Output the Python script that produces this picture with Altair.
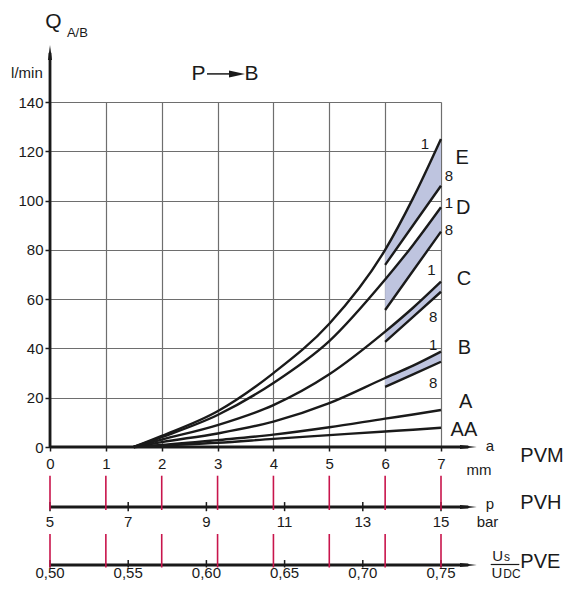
import altair as alt
import pandas as pd

FONT = "Liberation Sans"
INK = "#1a1a1a"
GRID = "#6e6e6e"
RED = "#c8154c"
FILL = "#bec4df"

# ---------------- data ----------------
a_ticks = [0, 1, 2, 3, 4, 5, 6, 7]
q_ticks = [0, 20, 40, 60, 80, 100, 120, 140]
p_ticks = [5, 7, 9, 11, 13, 15]
u_ticks = [0.50, 0.55, 0.60, 0.65, 0.70, 0.75]

curve_a = [1.5, 2, 3, 4, 5, 6, 6.5, 7]
q_E = [0, 4.5, 14.5, 30, 50, 80, 101, 125]
q_D = [0, 4, 13, 26, 43, 68, 82, 97.3]
q_C = [0, 3, 8.9, 17, 29.5, 46.8, 56.5, 67.1]
q_B = [0, 2, 5.5, 10.3, 17.8, 28, 33, 38.7]
q_A = [0, 0.8, 2.8, 5, 8, 11.5, 13.2, 15]
q_AA = [0, 0.6, 1.7, 3.3, 4.8, 6.3, 7.0, 7.8]

band_a = [6, 6.5, 7]
lo_E = [73.9, 90, 106]
lo_D = [55.6, 71.5, 87.4]
lo_C = [42.7, 52.8, 63]
lo_B = [24.4, 29.5, 34.6]

curves = {"E": q_E, "D": q_D, "C": q_C, "B": q_B, "A": q_A, "AA": q_AA}
lowers = {"E": lo_E, "D": lo_D, "C": lo_C, "B": lo_B}

# ---------------- layout constants (data units) ----------------
PVH_Y = -24.35
PVE_Y = -47.88
ARROW_END = 7.49

XS = alt.Scale(domain=[0, 7], nice=False, zero=False)
YS = alt.Scale(domain=[0, 140], nice=False, zero=False)

XAX = alt.Axis(values=a_ticks, format="d", title=None, domain=False, grid=True,
               gridColor=GRID, gridWidth=1.2, labelFont=FONT, labelFontSize=15,
               labelColor=INK, tickColor=INK, tickSize=4, tickWidth=1.5, labelPadding=5,
               labelFlush=False)
YAX = alt.Axis(values=q_ticks, format="d", title=None, domain=False, grid=True,
               gridColor=GRID, gridWidth=1.2, labelFont=FONT, labelFontSize=15,
               labelColor=INK, tickColor=INK, tickSize=5, tickWidth=1.5, labelPadding=2,
               labelFlush=False)


def X(f):
    return alt.X(f + ":Q", scale=XS, axis=XAX)


def Y(f):
    return alt.Y(f + ":Q", scale=YS, axis=YAX)


# curves
rows = []
for n, qs in curves.items():
    for a, q in zip(curve_a, qs):
        rows.append({"name": n, "x": a, "y": q})
curve_df = pd.DataFrame(rows)

brow = []
for n, lo in lowers.items():
    hi = curves[n][curve_a.index(6):]
    for a, h, l in zip(band_a, hi, lo):
        brow.append({"name": n, "x": a, "hi": h, "lo": l})
band_df = pd.DataFrame(brow)

areas = alt.Chart(band_df).mark_area(interpolate="monotone", color=FILL, opacity=1).encode(
    x=X("x"), y=Y("hi"), y2="lo:Q", detail="name:N")

lines = alt.Chart(curve_df).mark_line(interpolate="monotone", color=INK, strokeWidth=2.4).encode(
    x=X("x"), y=Y("y"), detail="name:N")

lower_lines = alt.Chart(band_df).mark_line(interpolate="linear", color=INK, strokeWidth=2.4).encode(
    x=X("x"), y=Y("lo"), detail="name:N")


def rules(rws, color=INK, width=2.5):
    df = pd.DataFrame(rws, columns=["x", "x2", "y", "y2"])
    return alt.Chart(df).mark_rule(color=color, strokeWidth=width).encode(
        x=X("x"), x2="x2:Q", y=Y("y"), y2="y2:Q")


def texts(rws, size, align="center", baseline="middle"):
    df = pd.DataFrame(rws, columns=["x", "y", "t"])
    return alt.Chart(df).mark_text(font=FONT, fontSize=size, align=align,
                                   baseline=baseline, color=INK).encode(
        x=X("x"), y=Y("y"), text="t:N")


def arrow(rws, path, size):
    df = pd.DataFrame(rws, columns=["x", "y"])
    return alt.Chart(df).mark_point(shape=path, size=size, filled=True, opacity=1,
                                    color=INK, strokeWidth=0).encode(x=X("x"), y=Y("y"))


RIGHT = "M-1,-0.25L1,0L-1,0.25Z"
UP = "M-0.27,1L0,-1L0.27,1Z"

axis_lines = rules([
    [0, ARROW_END, 0, 0],
    [0, ARROW_END, PVH_Y, PVH_Y],
    [0, ARROW_END, PVE_Y, PVE_Y],
    [0, 0, 0, 160],
], width=2.8)

heads = arrow([[ARROW_END, 0], [ARROW_END, PVH_Y], [ARROW_END, PVE_Y]], RIGHT, 280)
yhead = arrow([[0, 160.1]], UP, 225)

# secondary axis ticks (black) and red reference lines
sec_ticks = rules(
    [[(p - 5) * 0.7, (p - 5) * 0.7, PVH_Y + 2.0, PVH_Y - 1.7] for p in p_ticks] +
    [[(u - 0.5) * 28, (u - 0.5) * 28, PVE_Y + 2.0, PVE_Y - 1.0] for u in u_ticks],
    width=1.5)
red_lines = rules(
    [[a, a, -11.65, -25.57] for a in a_ticks] +
    [[a, a, -35.3, -48.9] for a in a_ticks],
    color=RED, width=1.6)

p_labels = texts([[(p - 5) * 0.7, -32.6, str(p)] for p in p_ticks], 15, baseline="alphabetic")
u_labels = texts([[(u - 0.5) * 28, -53.2, f"{u:.2f}".replace(".", ",")] for u in u_ticks], 15,
                 baseline="alphabetic")

# curve labels
big = texts([
    [7.38, 117.3, "E"], [7.40, 96.8, "D"], [7.41, 68.1, "C"],
    [7.42, 40.0, "B"], [7.44, 18.3, "A"], [7.41, 7.1, "AA"],
], 20)
small = texts([
    [6.71, 122.8, "1"], [7.14, 109.8, "8"], [7.14, 99.0, "1"], [7.14, 87.9, "8"],
    [6.83, 71.8, "1"], [6.86, 52.6, "8"], [6.86, 41.2, "1"], [6.86, 25.9, "8"],
], 15)

# axis titles and annotations
annot = texts([
    [0.063, 172.3, "Q"], [2.659, 151.4, "P"], [3.607, 151.4, "B"],
], 21)
annot_s = texts([[0.49, 168.1, "A/B"]], 13)
lmin = texts([[-0.13, 151.6, "l/min"]], 15, align="right")
pb_shaft = rules([[2.811, 3.22, 151.4, 151.4]], width=1.5)
pb_head = arrow([[3.348, 151.4]], "M-1,-0.44L1,0L-1,0.44Z", 256)

units = texts([
    [7.877, -1.62, "a"], [7.68, -11.36, "mm"], [7.877, -25.36, "p"], [7.833, -32.46, "bar"],
], 15, baseline="alphabetic")
names = texts([
    [8.42, -3.45, "PVM"], [8.42, -22.72, "PVH"], [8.42, -46.67, "PVE"],
], 20, align="left")
u_big = texts([[8.11, -46.14, "U"], [8.10, -53.0, "U"]], 15, align="right", baseline="alphabetic")
u_sub = texts([[8.128, -46.14, "s"], [8.115, -53.0, "DC"]], 12, align="left", baseline="alphabetic")
frac = rules([[7.89, 8.402, PVE_Y + 0.2, PVE_Y + 0.2]], width=1.2)

chart = alt.layer(
    areas, lines, lower_lines,
    axis_lines, heads, yhead, sec_ticks, red_lines,
    p_labels, u_labels, big, small, annot, annot_s, lmin, pb_shaft, pb_head,
    units, names, u_big, u_sub, frac,
).properties(
    width=391, height=345,
    autosize=alt.AutoSizeParams(type="none"),
    padding={"left": 42, "top": 94, "right": 122, "bottom": 134},
).configure_view(stroke=None).configure(background="white")

chart.save("out.html", embed_options={"renderer": "svg", "actions": False})
